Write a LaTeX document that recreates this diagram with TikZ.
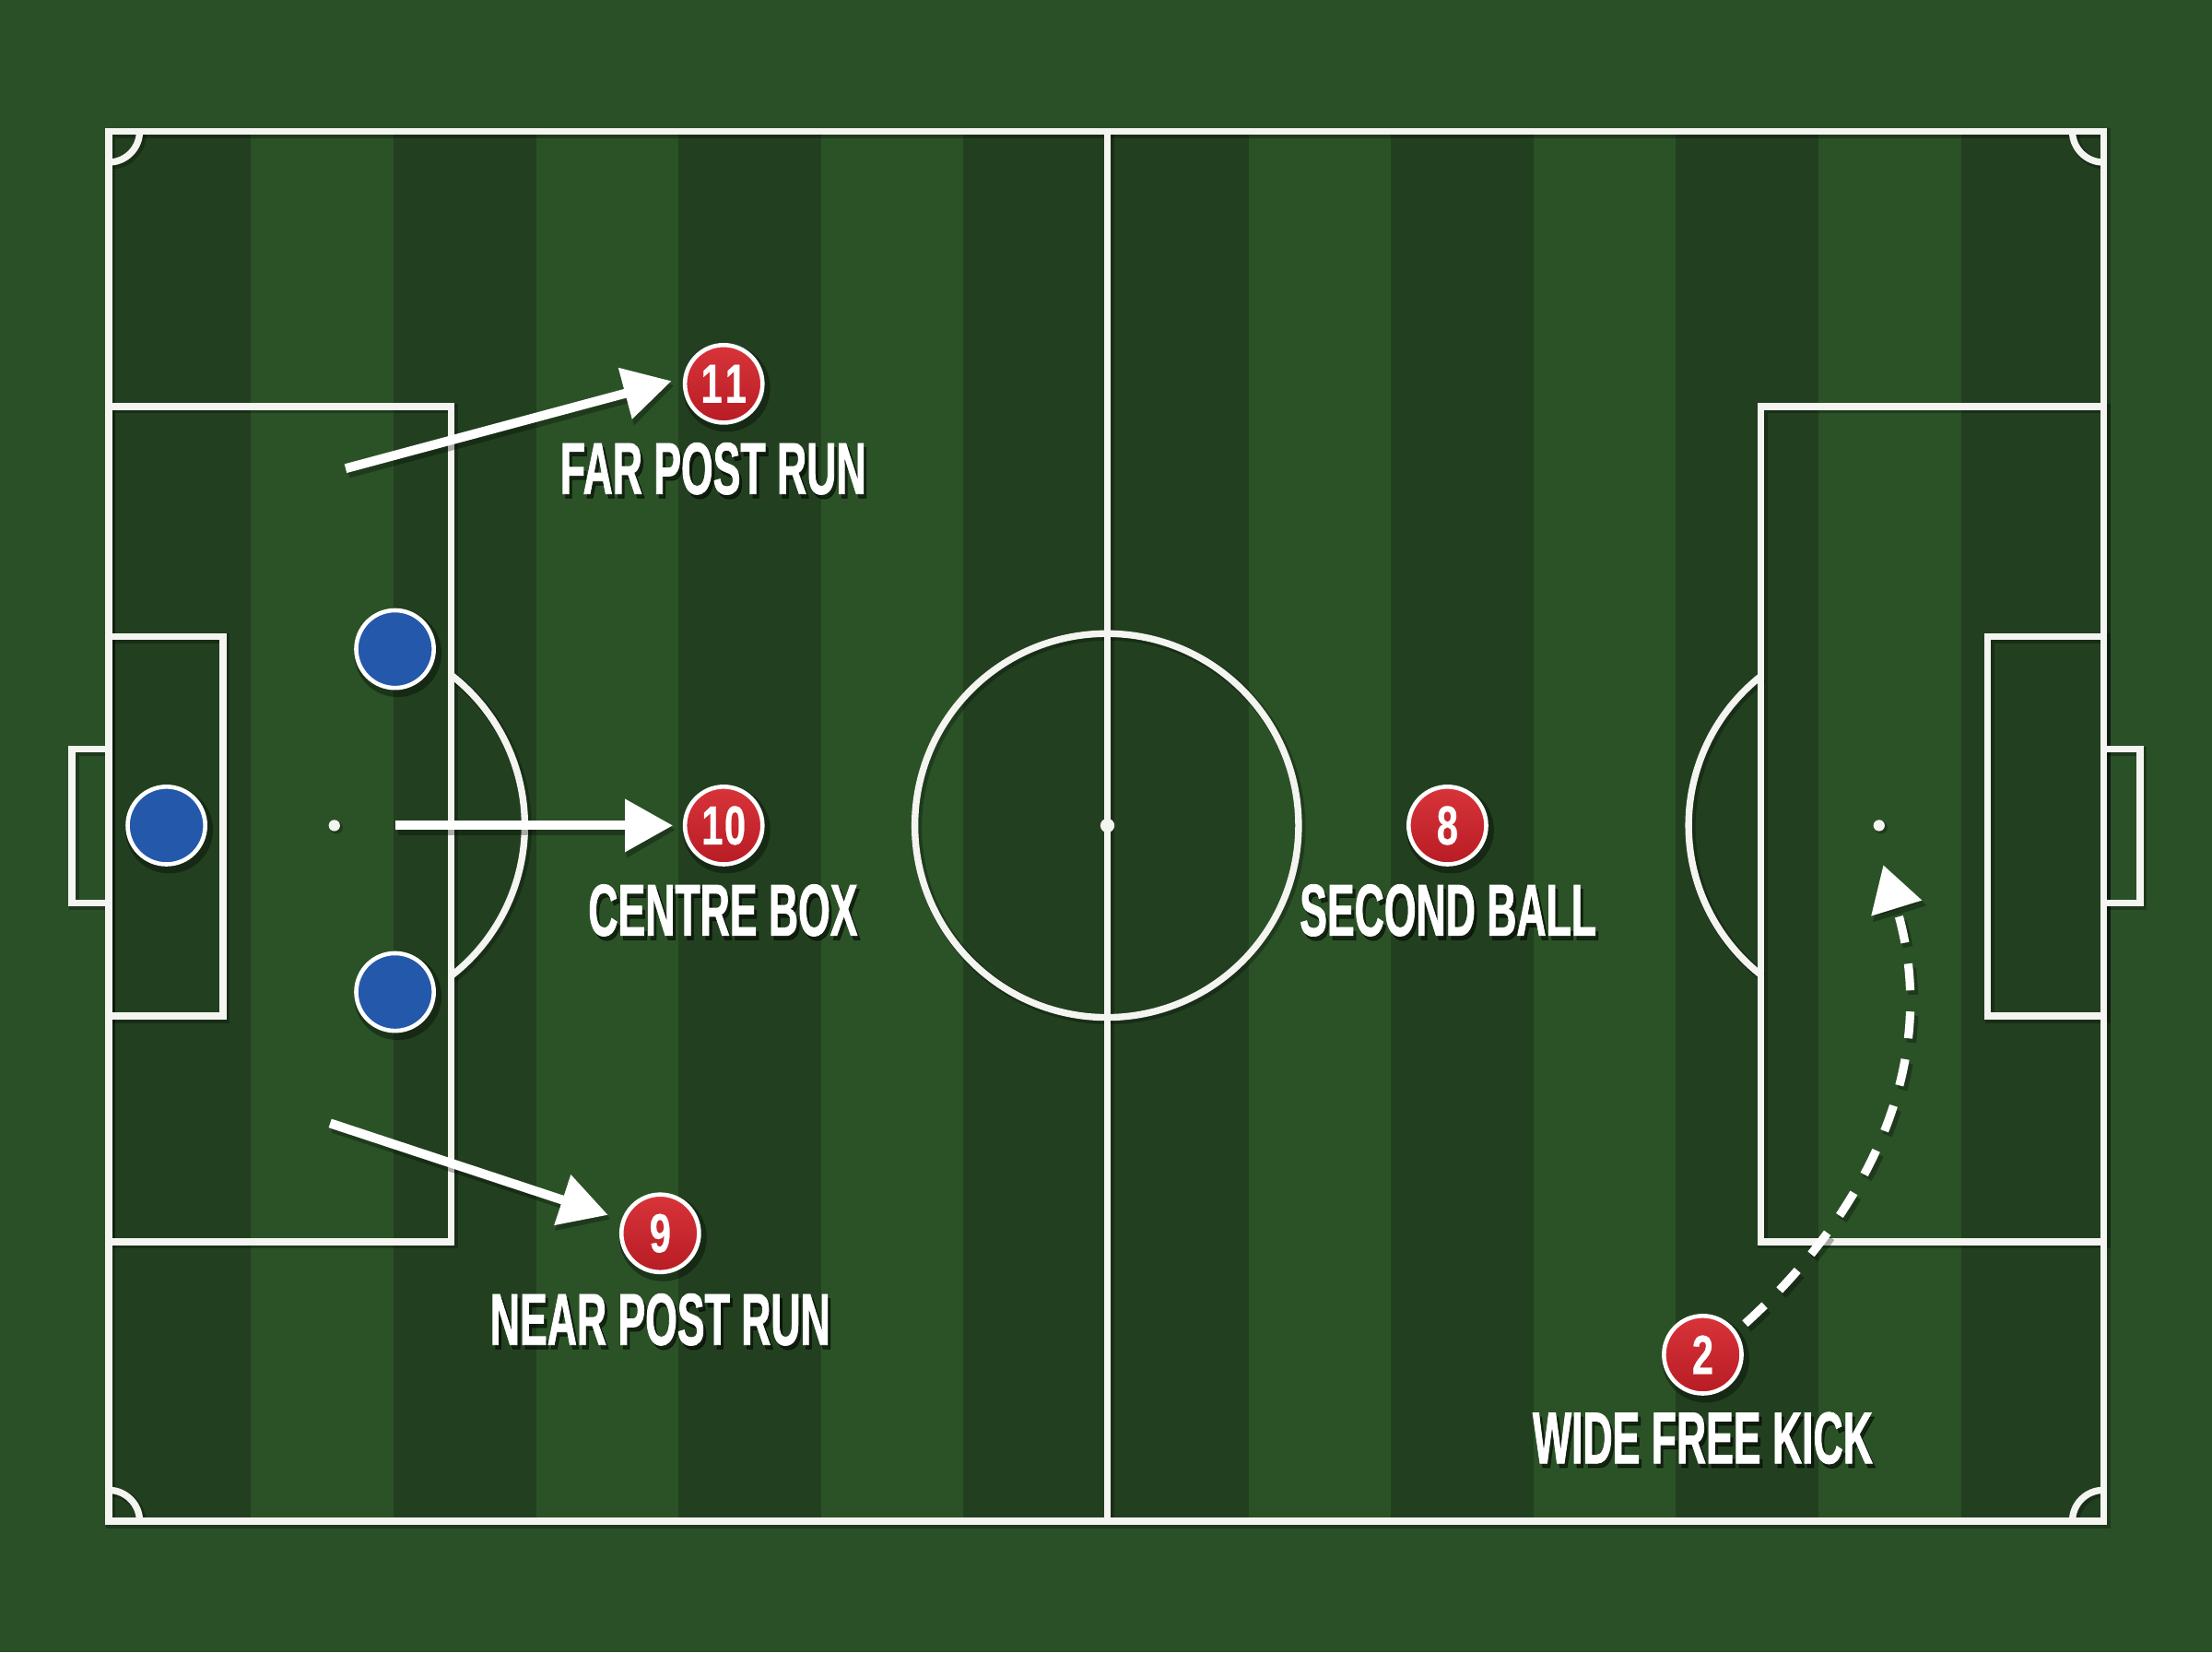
\documentclass[tikz,border=0pt]{standalone}
\usepackage{fontspec}
\usetikzlibrary{arrows.meta}
\newfontfamily\labfont[FakeStretch=0.56,FakeBold=1]{Liberation Sans}
\newfontfamily\numfont[FakeStretch=0.7,FakeBold=0.4]{Liberation Sans}
\definecolor{outergreen}{HTML}{2A5027}
\definecolor{stripelight}{HTML}{2B5227}
\definecolor{stripedark}{HTML}{22401F}
\definecolor{linewhite}{HTML}{F4F4F0}
\definecolor{badgetop}{HTML}{D8343A}
\definecolor{badgebot}{HTML}{B81C24}
\definecolor{playerblue}{HTML}{2458AA}
\newcommand\pitchLinesDraw[1]{%
  \draw[#1] (77,93) rectangle (1491,1078);
  \draw[#1] (785,93) -- (785,1078);
  \draw[#1] (784.5,585) circle[radius=136];
  \draw[#1] (77,288) rectangle (320,880);
  \draw[#1] (77,451) rectangle (158,720);
  \draw[#1] (77,531) -- (51,531) -- (51,640) -- (77,640);
  \draw[#1] (320,478.5) arc[start angle=-52.06, end angle=52.06, radius=135];
  \draw[#1] (1248,288) rectangle (1491,880);
  \draw[#1] (1409,451) rectangle (1491,720);
  \draw[#1] (1491,531) -- (1517,531) -- (1517,640) -- (1491,640);
  \draw[#1] (1248,690.7) arc[start angle=128.47, end angle=231.53, radius=135];
  \draw[#1] (99,93) arc[start angle=0, end angle=90, radius=22];
  \draw[#1] (1469,93) arc[start angle=180, end angle=90, radius=22];
  \draw[#1] (77,1056) arc[start angle=-90, end angle=0, radius=22];
  \draw[#1] (1469,1078) arc[start angle=180, end angle=270, radius=22];
}
\begin{document}
\begin{tikzpicture}[x=1pt,y=-1pt,
  pline/.style={draw=linewhite, line width=4.8pt},
  plshadow/.style={draw=black, draw opacity=0.28, line width=6.8pt},
  badge/.style={circle, top color=badgetop, bottom color=badgebot, draw=white, line width=3pt,
    minimum size=55pt, inner sep=0pt, text=white,
    font=\numfont\bfseries\fontsize{39pt}{44pt}\selectfont},
  player/.style={circle, fill=playerblue, draw=white, line width=3pt, minimum size=55pt, inner sep=0pt},
  discshadow/.style={circle, fill=black, opacity=0.35, minimum size=62pt, inner sep=0pt},
  lbl/.style={inner sep=0pt, anchor=base, text=white,
    font=\labfont\bfseries\fontsize{52pt}{60pt}\selectfont},
  lblshadow/.style={lbl, text=black, text opacity=0.55},
  runarrow/.style={draw=white, line width=6.5pt, -{Triangle[length=34pt,width=36pt]}},
  runshadow/.style={draw=black, opacity=0.3, line width=7.5pt, -{Triangle[length=35pt,width=38pt]}},
  kickarrow/.style={draw=white, line width=6pt, dash pattern=on 19pt off 15pt, -{Triangle[length=32pt,width=36pt]}},
  kickshadow/.style={draw=black, opacity=0.3, line width=7pt, dash pattern=on 19pt off 15pt, -{Triangle[length=33pt,width=38pt]}},
]
\useasboundingbox (0,0) rectangle (1568,1171);
\fill[outergreen] (0,0) rectangle (1568,1171);
% stripes
\fill[stripelight] (77,93) rectangle (1491,1078);
\foreach \i in {0,2,4,6,7,9,11,13} {
  \fill[stripedark] ({77+101*\i},93) rectangle ({77+101*(\i+1)},1078);
}
% pitch lines
\begin{scope}[shift={(1.5,1.5)}]
  \pitchLinesDraw{plshadow}
\end{scope}
\pitchLinesDraw{pline}
\fill[black, opacity=0.28] (238.5,586.5) circle[radius=4.5];
\fill[black, opacity=0.28] (1333.5,586.5) circle[radius=4.5];
\fill[linewhite] (237,585) circle[radius=4];
\fill[linewhite] (1332,585) circle[radius=4];
\fill[linewhite] (785,585) circle[radius=5];

% arrow coordinates
\coordinate (fs) at (245,332);
\coordinate (ft) at (476,270);
\coordinate (cs) at (280,585);
\coordinate (ct) at (477,585);
\coordinate (ns) at (234,796);
\coordinate (nt) at (431,861);
\coordinate (ks) at (1237,938);
\coordinate (kt) at (1335,613);
\coordinate (fss) at (247,335);
\coordinate (fts) at (478,273);
\coordinate (css) at (282,588);
\coordinate (cts) at (479,588);
\coordinate (nss) at (236,799);
\coordinate (nts) at (433,864);

% shadows of arrows
\draw[runshadow] (fss) -- (fts);
\draw[runshadow] (css) -- (cts);
\draw[runshadow] (nss) -- (nts);
\draw[kickshadow] (1239,941) .. controls (1321,867) and (1381,759) .. (1337,616);

% arrows
\draw[runarrow] (fs) -- (ft);
\draw[runarrow] (cs) -- (ct);
\draw[runarrow] (ns) -- (nt);
\draw[kickarrow] (ks) .. controls (1319,864) and (1379,756) .. (kt);

% disc shadows
\node[discshadow] (p1s) at (282,463) {};
\node[discshadow] (pks) at (120,588) {};
\node[discshadow] (p2s) at (282,706) {};
\node[discshadow] (b11s) at (515,275) {};
\node[discshadow] (b10s) at (515,588) {};
\node[discshadow] (b9s) at (470,877) {};
\node[discshadow] (b8s) at (1028,588) {};
\node[discshadow] (b2s) at (1209,963) {};

% defenders
\node[player] (p1) at (280,460) {};
\node[player] (pk) at (118,585) {};
\node[player] (p2) at (280,703) {};

% attackers
\node[badge] (b11) at (513,272) {1\kern2pt1};
\node[badge] (b10) at (513,585) {1\kern1pt0};
\node[badge] (b9) at (468,874) {9};
\node[badge] (b8) at (1026,585) {8};
\node[badge] (b2) at (1207,960) {2};

% labels
\node[lblshadow] (l11s) at (507.5,353) {FAR POST RUN};
\node[lblshadow] (l10s) at (514.5,666) {CENTRE BOX};
\node[lblshadow] (l9s) at (470,956) {NEAR POST RUN};
\node[lblshadow] (l8s) at (1028.5,666) {SECOND BALL};
\node[lblshadow] (l2s) at (1209,1040) {WIDE FREE KICK};
\node[lbl] (l11) at (505.5,350) {FAR POST RUN};
\node[lbl] (l10) at (512.5,663) {CENTRE BOX};
\node[lbl] (l9) at (468,953) {NEAR POST RUN};
\node[lbl] (l8) at (1026.5,663) {SECOND BALL};
\node[lbl] (l2) at (1207,1037) {WIDE FREE KICK};
\end{tikzpicture}
\end{document}
